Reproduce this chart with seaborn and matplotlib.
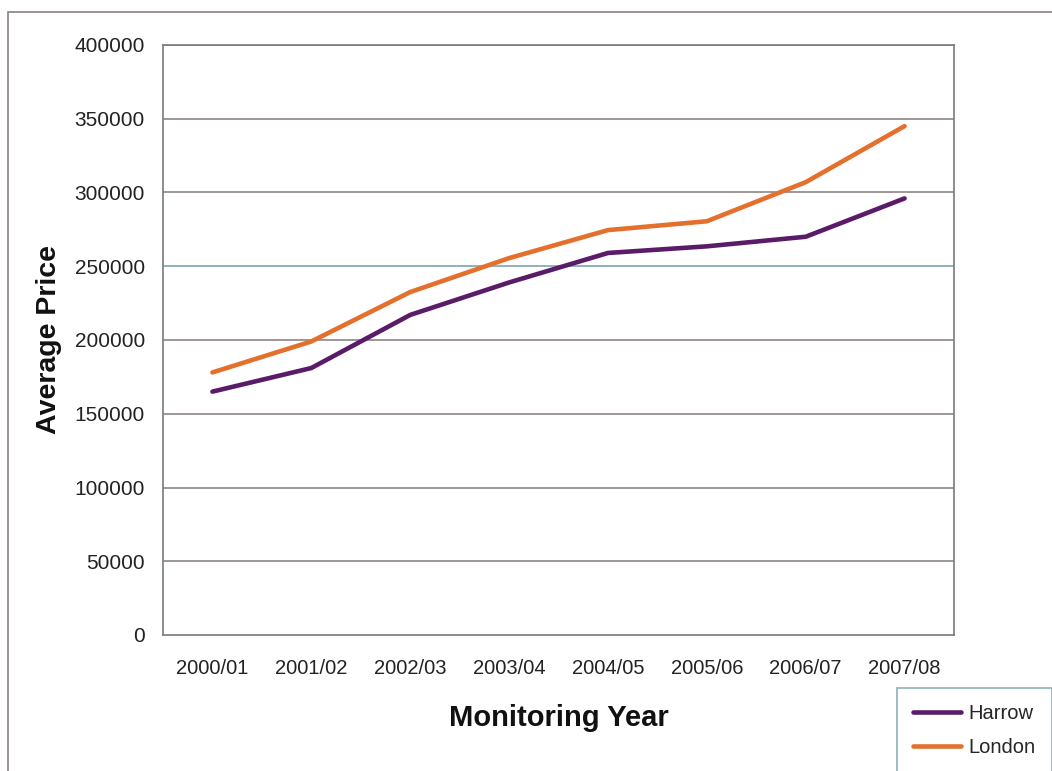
import matplotlib
matplotlib.use("Agg")
import matplotlib.pyplot as plt
from matplotlib.patches import Rectangle
from matplotlib.lines import Line2D
import seaborn as sns
import pandas as pd

years = ["2000/01", "2001/02", "2002/03", "2003/04", "2004/05", "2005/06", "2006/07", "2007/08"]
harrow = [165000, 181000, 217000, 239000, 259000, 263500, 270000, 296000]
london = [178000, 199000, 232500, 255500, 274500, 280500, 307000, 345000]
series_names = ["Harrow", "London"]
y_ticks = [0, 50000, 100000, 150000, 200000, 250000, 300000, 350000, 400000]

df = pd.DataFrame({
    "idx": list(range(len(years))) * 2,
    "price": harrow + london,
    "area": ["Harrow"] * len(years) + ["London"] * len(years),
})

sns.set_theme(style="white")
plt.rcParams["font.family"] = ["Liberation Sans", "DejaVu Sans"]

fig = plt.figure(figsize=(10.52, 7.71), dpi=100)
ax = fig.add_axes([163 / 1052, 1 - 635 / 771, (954 - 163) / 1052, (635 - 45) / 771])

grid_col = "#857a7a"
for v in y_ticks[1:]:
    ax.axhline(v, color="#6e9ea4" if v == 250000 else grid_col, lw=1.1, zorder=0)

sns.lineplot(data=df, x="idx", y="price", hue="area",
             palette={"Harrow": "#5a1b68", "London": "#e4702e"},
             linewidth=3.3, ax=ax, legend=False, zorder=3)

ax.set_xlim(-0.5, len(years) - 0.5)
ax.set_ylim(0, 400000)
ax.set_yticks(y_ticks)
ax.set_yticklabels([str(v) for v in y_ticks], fontsize=15, color="#222222")
ax.set_xticks([i - 0.5 for i in range(len(years) + 1)])
ax.set_xticklabels([])
ax.set_xticks(list(range(len(years))), minor=True)
ax.set_xticklabels(years, minor=True, fontsize=14.5, color="#222222")
ax.tick_params(axis="x", which="major", direction="out", length=6, width=1, color="#707070")
ax.tick_params(axis="x", which="minor", length=0, pad=17)
ax.tick_params(axis="y", direction="out", length=6, width=1, color="#707070", pad=7)

for s in ax.spines.values():
    s.set_color("#7a7a7a")
    s.set_linewidth(1.2)

ax.set_ylabel("Average Price", fontsize=20.5, fontweight="bold", labelpad=9, color="#111111")
ax.set_xlabel("Monitoring Year", fontsize=21, fontweight="bold", labelpad=19, color="#111111")

# outer chart border
fig.patches.append(Rectangle((8 / 1052, -0.2), 1.2, 1 - 12 / 771 + 0.2, fill=False,
                             edgecolor="#8a8080", lw=1.2, transform=fig.transFigure, figure=fig))

# legend
handles = [Line2D([0], [0], color="#5a1b68", lw=3.3), Line2D([0], [0], color="#e4702e", lw=3.3)]
leg = fig.legend(handles, series_names, loc="upper left",
                 bbox_to_anchor=(897 / 1052, 1 - 688 / 771), fontsize=14.5,
                 frameon=True, fancybox=False, edgecolor="#6e9ea4", borderpad=0.8,
                 handlelength=2.4, handletextpad=0.35, labelspacing=0.75, borderaxespad=0)
leg.get_frame().set_linewidth(1.2)

fig.savefig("out.png", dpi=100)
